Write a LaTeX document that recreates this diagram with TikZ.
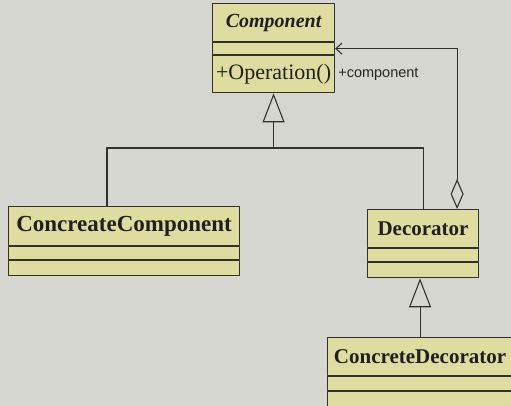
\documentclass[tikz,border=0pt]{standalone}
\usepackage{fontspec}
\setmainfont{Liberation Serif}
\newfontfamily\rolefont{Liberation Sans}
\usetikzlibrary{arrows.meta,calc,positioning}
\definecolor{paper}{RGB}{214,214,208}
\definecolor{classfill}{RGB}{223,220,160}
\definecolor{ink}{RGB}{50,50,45}

\tikzset{
  cls/.style={draw=ink, fill=classfill, line width=1.1pt, inner sep=0pt, text=black!88},
  wire/.style={draw=ink, line width=1.1pt},
  inherit/.style={wire, -{Triangle[open, length=29pt, width=22pt]}},
  agg/.style={wire, {Diamond[open, length=30pt, width=13pt]}-{Straight Barb[length=6pt, width=11pt]}}
}

\begin{document}
\begin{tikzpicture}[x=1pt, y=-1pt, line join=round, line cap=round]
	\def \nm{\fontsize{21}{23}\selectfont\bfseries}
	\fill[paper] (0,0) rectangle (511,406);
	\useasboundingbox (0,0) rectangle (511,406);
	% Component
	\node[cls, anchor=north west, minimum width=122, minimum height=38, font=\fontsize{20}{22}\selectfont\bfseries\itshape] (comp) at (212,3) {Component};
	\node[cls, anchor=north, minimum width=122, minimum height=12] (compA) at (comp.south) {};
	\node[cls, anchor=north, minimum width=122, minimum height=37, font=\fontsize{22}{24}\selectfont] (compO) at (compA.south) {+Operation()};
	\node[anchor=west, inner sep=3pt, font=\rolefont\fontsize{14.5}{16}\selectfont, text=black!85] (role) at (compO.east) {+component};
	% ConcreateComponent
	\node[cls, anchor=north west, minimum width=231, minimum height=39, font=\fontsize{23}{25}\selectfont\bfseries] (cc) at (8,206) {ConcreateComponent};
	\node[cls, anchor=north, minimum width=231, minimum height=13] (ccA) at (cc.south) {};
	\node[cls, anchor=north, minimum width=231, minimum height=15] (ccO) at (ccA.south) {};
	% Decorator
	\node[cls, anchor=north west, minimum width=111, minimum height=38, font=\nm] (dec) at (367,209) {Decorator};
	\node[cls, anchor=north, minimum width=111, minimum height=13] (decA) at (dec.south) {};
	\node[cls, anchor=north, minimum width=111, minimum height=15] (decO) at (decA.south) {};
	% ConcreteDecorator
	\node[cls, anchor=north west, minimum width=185, minimum height=38, font=\nm] (cd) at (327,337) {ConcreteDecorator};
	\node[cls, anchor=north, minimum width=185, minimum height=14] (cdA) at (cd.south) {};
	\node[cls, anchor=north, minimum width=185, minimum height=15] (cdO) at (cdA.south) {};
	% connectors
	\coordinate (bus) at (0,148);
	\coordinate (j) at (compO.south |- bus);
	\coordinate (ccIn) at ($(cc.north west)+(99,0)$);
	\coordinate (decAgg) at ($(dec.north east)+(-22,0)$);
	\draw[wire] (ccIn) |- (j) -| (dec.north);
	\draw[inherit] (j) -- (compO.south);
	\draw[inherit] (cd.north) -- (cd.north |- decO.south);
	\draw[agg] (decAgg) |- (compA.east);
\end{tikzpicture}
\end{document}
